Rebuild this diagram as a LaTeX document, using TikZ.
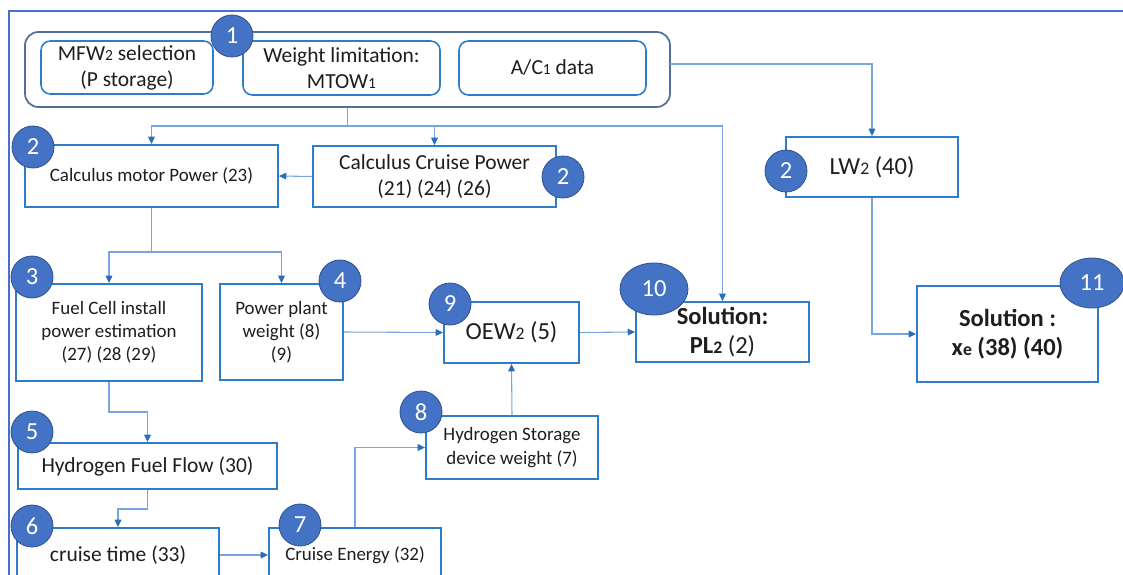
\documentclass[tikz,border=0pt]{standalone}
\usepackage{graphicx}
\usepackage{fontspec}
\setmainfont{Carlito}
\usetikzlibrary{arrows.meta,shapes.geometric}

\definecolor{boxblue}{RGB}{46,125,200}
\definecolor{linkblue}{RGB}{120,165,222}
\definecolor{tipblue}{RGB}{40,110,190}
\definecolor{badgefill}{RGB}{68,114,196}
\definecolor{badgeedge}{RGB}{47,82,143}
\definecolor{groupedge}{RGB}{84,110,155}
\definecolor{framecol}{RGB}{68,114,196}
\definecolor{ink}{RGB}{30,30,30}

% smaller index written on the baseline (MFW2, LW2, ...)
\newcommand\lo[1]{\scalebox{0.72}{#1}}
% font sizes (1 px = 0.75 pt)
\newcommand\fsS{\fontsize{14.2pt}{17.4pt}\selectfont}
\newcommand\fsM{\fontsize{16.1pt}{19.6pt}\selectfont}
\newcommand\fsL{\fontsize{18.4pt}{21.6pt}\selectfont}

% node from its two corners, in px: name, style, x1, y1, x2, y2, text
\newcommand\pxbox[7]{%
  \pgfmathsetmacro\cx{(#3+#5)/2}\pgfmathsetmacro\cy{(#4+#6)/2}%
  \pgfmathsetmacro\bw{(#5-#3)*0.75}\pgfmathsetmacro\bh{(#6-#4)*0.75}%
  \node[#2, minimum width=\bw pt, minimum height=\bh pt] (#1) at (\cx,\cy) {#7};}

\tikzset{
  box/.style={draw=boxblue, line width=1.4pt, fill=white, inner sep=1pt,
    align=center, text=ink},
  rbox/.style={box, line width=1.2pt, rounded corners=7pt},
  grp/.style={draw=groupedge, line width=1.3pt, rounded corners=10pt, inner sep=0pt},
  badge/.style={circle, fill=badgefill, draw=badgeedge, line width=0.6pt,
    minimum size=31.5pt, inner sep=0pt, text=white, font=\fsL},
  oval/.style={ellipse, fill=badgefill, draw=badgeedge, line width=0.6pt,
    inner sep=0pt, text=white, font=\fsL},
  conn/.style={draw=linkblue, line width=0.8pt},
  arr/.style={conn, -{Triangle[length=5.5pt,width=5pt,color=tipblue]}},
}

\begin{document}
\begin{tikzpicture}[x=0.75pt,y=-0.75pt]
\useasboundingbox (0,0) rectangle (1123,574);

% outer frame (left and top edges)
\draw[framecol, line width=1.5pt] (9,590) -- (9,11) -- (1140,11);

% input group
\pxbox{group}{grp}{25}{32}{670}{107}{}
\pxbox{mfw}{rbox, font=\fsM}{41}{41}{213}{94}{MFW\lo{2} selection\\(P storage)}
\pxbox{mtow}{rbox, font=\fsM}{243}{41}{440}{95}{Weight limitation:\\MTOW\lo{1}}
\pxbox{acd}{rbox, font=\fsM}{459}{41}{646}{95}{A/C\lo{1} data}

% calculation boxes
\pxbox{motor}{box, font=\fsS}{25}{145}{278}{207}{Calculus motor Power (23)}
\pxbox{cruise}{box, font=\fsM}{313}{146}{556}{207}{Calculus Cruise Power\\(21) (24) (26)}
\pxbox{lw}{box, font=\fsL}{786}{137}{958}{197}{LW\lo{2} (40)}
\pxbox{fuel}{box, font=\fsS}{16}{284}{202}{381}{Fuel Cell install\\power estimation\\(27) (28 (29)}
\pxbox{pp}{box, font=\fsS}{220}{284}{343}{380}{Power plant\\weight (8)\\(9)}
\pxbox{oew}{box, font=\fsL}{444}{302}{579}{363}{OEW\lo{2} (5)}
\pxbox{pl}{box, font=\fsL}{636}{302}{809}{362}{\textbf{Solution:}\\\textbf{PL\lo{2}} (2)}
\pxbox{xe}{box, font=\fsL}{917}{286}{1098}{382}{\textbf{Solution :}\\\textbf{x\lo{e} (38) (40)}}
\pxbox{hff}{box, font=\fsM}{18}{443}{277}{489}{Hydrogen Fuel Flow (30)}
\pxbox{hs}{box, font=\fsS}{426}{416}{598}{479}{Hydrogen Storage\\device weight (7)}
\pxbox{ct}{box, font=\fsM}{17}{528}{219}{582}{cruise time (33)}
\pxbox{ce}{box, font=\fsS}{269}{528}{441}{582}{Cruise Energy (32)}

% connectors
\coordinate (tapR) at (670,64);
\coordinate (split) at (347.5,126);
\coordinate (split2) at (151.5,252);
\coordinate (k1) at (109,412);
\coordinate (k2) at (147.5,509);

\draw[arr] (tapR) -| (lw.north);
\draw[conn] (group.south) -- (split);
\draw[arr] (split) -| (pl.north);
\draw[arr] (split) -| (motor.north);
\draw[arr] (split) -| (cruise.north);
\draw[arr] (cruise.west) -- (motor.east);
\draw[conn] (motor.south) -- (split2);
\draw[arr] (split2) -| (fuel.north);
\draw[arr] (split2) -| (pp.north);
\draw[arr] (pp.east) -- (oew.west);
\draw[arr] (oew.east) -- (pl.west);
\draw[arr] (lw.south) |- (xe.west);
\draw[arr] (fuel.south) -- (k1) -| (hff.north);
\draw[arr] (hff.south) -- (k2) -| (ct.north);
\draw[arr] (ct.east) -- (ce.west);
\draw[arr] (ce.north) |- (hs.west);
\draw[arr] (hs.north) -- (oew.south);

% step numbers
\node[badge] (n1) at (232,36) {1};
\node[badge] (n2a) at (33,147) {2};
\node[badge] (n2b) at (563,177) {2};
\node[badge] (n2c) at (786,171) {2};
\node[badge] (n3) at (32,277) {3};
\node[badge] (n4) at (340,281) {4};
\node[badge] (n9) at (450,304) {9};
\node[oval, minimum width=51pt, minimum height=39pt] (n10) at (654,289) {10};
\node[oval, minimum width=48pt, minimum height=37.5pt] (n11) at (1092,283) {11};
\node[badge] (n8) at (421,412) {8};
\node[badge] (n5) at (32,432) {5};
\node[badge] (n6) at (32,526) {6};
\node[badge] (n7) at (300,525) {7};
\end{tikzpicture}
\end{document}
